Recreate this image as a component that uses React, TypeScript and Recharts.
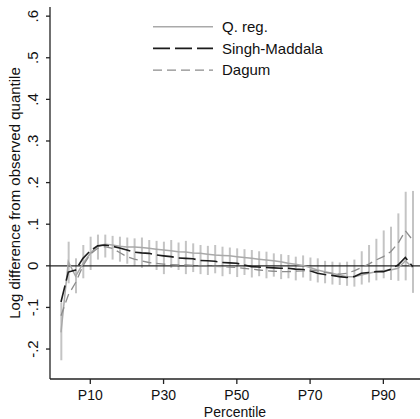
import { ComposedChart, Line, Bar, XAxis, YAxis, ReferenceLine } from 'recharts'

// percentiles where the quantiles were evaluated
const percentiles = [
  2, 4, 6, 8, 10, 12, 14, 16, 18, 20, 22, 24, 26, 28, 30, 32, 34, 36, 38, 40, 42, 44, 46, 48, 50,
  52, 54, 56, 58, 60, 62, 64, 66, 68, 70, 72, 74, 76, 78, 80, 82, 84, 86, 88, 90, 92, 94, 96, 98,
]

const qreg = [
  -0.16, 0.01, -0.025, 0.005, 0.03, 0.047, 0.052, 0.05, 0.047, 0.045, 0.045, 0.044, 0.042, 0.04,
  0.038, 0.036, 0.034, 0.033, 0.031, 0.03, 0.028, 0.026, 0.025, 0.024, 0.022, 0.02, 0.018, 0.016,
  0.014, 0.012, 0.01, 0.006, 0.004, 0.001, -0.004, -0.01, -0.014, -0.018, -0.022, -0.026, -0.026,
  -0.022, -0.018, -0.014, -0.012, -0.01, -0.006, 0.012, -0.004,
]

const qregLow = [
  -0.227, -0.042, -0.066, -0.03, -0.01, 0.015, 0.02, 0.015, 0.01, 0.005, 0.0, -0.005, 0.0, -0.01,
  -0.02, -0.005, -0.01, -0.02, -0.015, -0.02, -0.022, -0.018, -0.025, -0.02, -0.027, -0.022,
  -0.028, -0.025, -0.03, -0.026, -0.032, -0.03, -0.035, -0.028, -0.036, -0.04, -0.042, -0.045,
  -0.046, -0.048, -0.05, -0.045, -0.04, -0.035, -0.03, -0.034, -0.036, -0.035, -0.065,
]

const qregHigh = [
  -0.088, 0.058, 0.018, 0.05, 0.07, 0.075, 0.075, 0.072, 0.07, 0.068, 0.066, 0.068, 0.062, 0.06,
  0.058, 0.062, 0.056, 0.06, 0.054, 0.05, 0.048, 0.05, 0.046, 0.044, 0.042, 0.04, 0.038, 0.035,
  0.034, 0.03, 0.028, 0.026, 0.022, 0.025, 0.02, 0.018, 0.012, 0.01, 0.008, 0.01, 0.015, 0.035,
  0.05, 0.065, 0.085, 0.094, 0.126, 0.178, 0.18,
]

const singhMaddala = [
  -0.087, -0.015, -0.01, 0.018, 0.036, 0.048, 0.05, 0.047, 0.043, 0.038, 0.033, 0.031, 0.03, 0.026,
  0.024, 0.022, 0.019, 0.018, 0.017, 0.013, 0.012, 0.011, 0.008, 0.007, 0.006, 0.002, -0.002,
  -0.003, -0.004, -0.005, -0.006, -0.006, -0.008, -0.009, -0.012, -0.018, -0.021, -0.023, -0.026,
  -0.028, -0.026, -0.018, -0.016, -0.014, -0.014, -0.008, 0.002, 0.02, -0.002,
]

const dagum = [
  -0.12, -0.07, -0.04, 0.0, 0.028, 0.042, 0.046, 0.042, 0.032, 0.022, 0.016, 0.012, 0.008, 0.006,
  0.004, 0.003, 0.002, 0.002, 0.001, 0.0, 0.0, -0.001, -0.002, -0.003, -0.004, -0.006, -0.008,
  -0.01, -0.012, -0.013, -0.014, -0.014, -0.013, -0.012, -0.01, -0.012, -0.016, -0.018, -0.02,
  -0.018, -0.012, -0.004, 0.004, 0.014, 0.022, 0.034, 0.054, 0.084, 0.062,
]

const xTicks = [10, 30, 50, 70, 90]
const xTickLabels = ['P10', 'P30', 'P50', 'P70', 'P90']
const yTicks = [-0.2, -0.1, 0, 0.1, 0.2, 0.3, 0.4, 0.5, 0.6]
const yTickLabels = ['-.2', '-.1', '0', '.1', '.2', '.3', '.4', '.5', '.6']

const FONT = '"Liberation Sans", Arial, Helvetica, sans-serif'

const SERIES = [
  { key: 'qreg', name: 'Q. reg.', color: '#a9a9a9', width: 1.5, dash: undefined as string | undefined },
  { key: 'sm', name: 'Singh-Maddala', color: '#1c1c1c', width: 1.6, dash: '17 5' },
  { key: 'dagum', name: 'Dagum', color: '#8c8c8c', width: 1.3, dash: '9 5' },
]

const data = percentiles.map((p, i) => ({
  p,
  qreg: qreg[i],
  ci: [qregLow[i], qregHigh[i]],
  sm: singhMaddala[i],
  dagum: dagum[i],
}))

function YTick(props: any) {
  const { y, payload } = props
  const idx = yTicks.indexOf(payload.value)
  return (
    <text
      x={33}
      y={y}
      transform={`rotate(-90 33 ${y})`}
      textAnchor="middle"
      dy="0.35em"
      fontSize={15}
      fontFamily={FONT}
      fill="#111"
    >
      {yTickLabels[idx]}
    </text>
  )
}

function XTick(props: any) {
  const { x, y, payload } = props
  const idx = xTicks.indexOf(payload.value)
  return (
    <text x={x} y={y} textAnchor="middle" dy="0.71em" fontSize={14} fontFamily={FONT} fill="#111">
      {xTickLabels[idx]}
    </text>
  )
}

export default function App() {
  return (
    <div style={{ position: 'absolute', left: 0, top: 0, width: 420, height: 419, background: '#fff' }}>
      <ComposedChart
        width={420}
        height={419}
        data={data}
        margin={{ top: 7, right: 0, left: 0, bottom: 0 }}
      >
        <XAxis
          dataKey="p"
          type="number"
          domain={[-1, 100]}
          ticks={xTicks}
          tick={<XTick />}
          tickSize={5}
          tickMargin={6}
          height={40}
          stroke="#222"
          strokeWidth={1.3}
          label={(p: any) => (
            <text
              x={p.viewBox.x + p.viewBox.width / 2}
              y={p.viewBox.y + 38}
              textAnchor="middle"
              fontSize={14}
              fontFamily={FONT}
              fill="#111"
            >
              Percentile
            </text>
          )}
        />
        <YAxis
          type="number"
          domain={[-0.272, 0.622]}
          allowDataOverflow
          ticks={yTicks}
          tick={<YTick />}
          tickSize={4}
          width={50}
          stroke="#222"
          strokeWidth={1.3}
          label={(p: any) => (
            <text
              x={15}
              y={p.viewBox.y + p.viewBox.height / 2}
              transform={`rotate(-90 15 ${p.viewBox.y + p.viewBox.height / 2})`}
              textAnchor="middle"
              dy="0.35em"
              fontSize={15}
              fontFamily={FONT}
              fill="#111"
            >
              Log difference from observed quantile
            </text>
          )}
        />
        <Bar dataKey="ci" barSize={2} fill="#c4c4c4" isAnimationActive={false} />
        <ReferenceLine y={0} stroke="#222" strokeWidth={1.3} />
        {SERIES.map((s) => (
          <Line
            key={s.key}
            dataKey={s.key}
            stroke={s.color}
            strokeWidth={s.width}
            strokeDasharray={s.dash}
            dot={false}
            activeDot={false}
            type="linear"
            isAnimationActive={false}
          />
        ))}
      </ComposedChart>

      {/* legend, top of the plot area */}
      <svg width={420} height={419} style={{ position: 'absolute', left: 0, top: 0, pointerEvents: 'none' }}>
        {SERIES.map((s, i) => {
          const y = 26.7 + i * 21.7
          return (
            <g key={s.key}>
              <line x1={153} x2={213} y1={y} y2={y} stroke={s.color} strokeWidth={s.width} strokeDasharray={s.dash} />
              <text x={222} y={y} dy="0.35em" fontSize={15} fontFamily={FONT} fill="#111">
                {s.name}
              </text>
            </g>
          )
        })}
      </svg>
    </div>
  )
}
